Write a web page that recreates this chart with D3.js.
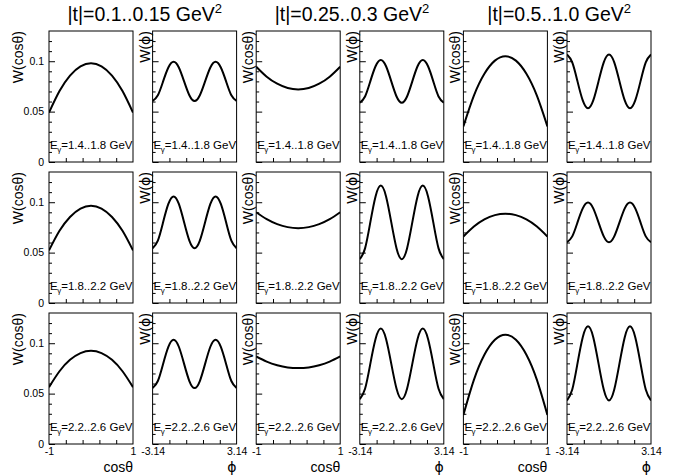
<!DOCTYPE html>
<html>
<head>
<meta charset="utf-8">
<script src="https://cdn.jsdelivr.net/npm/d3@7"></script>
<style>
  html, body { margin: 0; padding: 0; background: #fff; }
  svg { display: block; font-family: "Liberation Sans", Arial, Helvetica, sans-serif; }
</style>
</head>
<body>
<svg id="chart" width="692" height="475"></svg>
<script>
// ---------------- data ----------------
const tBins = ["0.1..0.15", "0.25..0.3", "0.5..1.0"];
const energyBins = ["1.4..1.8", "1.8..2.2", "2.2..2.6"];
const yMajorTicks = [0, 0.05, 0.1];
const yMajorLabels = ["0", "0.05", "0.1"];
const yMinorTicks = [0.01, 0.02, 0.03, 0.04, 0.06, 0.07, 0.08, 0.09, 0.11, 0.12];
const cosTicks = [-0.6, -0.2, 0.2, 0.6];
const cosLabels = ["-1", "1"];
const phiTicks = [-1.884, -0.628, 0.628, 1.884];
const phiLabels = ["-3.14", "3.14"];

const cosTheta = [-1, -0.75, -0.5, -0.25, 0, 0.25, 0.5, 0.75, 1];
const phi = [-3.1416, -2.7489, -2.3562, -1.9635, -1.5708, -1.1781, -0.7854, -0.3927, 0,
             0.3927, 0.7854, 1.1781, 1.5708, 1.9635, 2.3562, 2.7489, 3.1416];

// W(cos theta), rows = photon energy bins, columns = |t| bins
const wCosT1E1 = [0.0490, 0.0704, 0.0858, 0.0949, 0.0980, 0.0949, 0.0858, 0.0704, 0.0490];
const wCosT2E1 = [0.0946, 0.0847, 0.0777, 0.0734, 0.0720, 0.0734, 0.0777, 0.0847, 0.0946];
const wCosT3E1 = [0.0354, 0.0659, 0.0876, 0.1006, 0.1050, 0.1006, 0.0876, 0.0659, 0.0354];
const wCosT1E2 = [0.0522, 0.0716, 0.0854, 0.0937, 0.0965, 0.0937, 0.0854, 0.0716, 0.0522];
const wCosT2E2 = [0.0901, 0.0832, 0.0783, 0.0753, 0.0743, 0.0753, 0.0783, 0.0832, 0.0901];
const wCosT3E2 = [0.0660, 0.0759, 0.0830, 0.0872, 0.0886, 0.0872, 0.0830, 0.0759, 0.0660];
const wCosT1E3 = [0.0564, 0.0722, 0.0835, 0.0902, 0.0925, 0.0902, 0.0835, 0.0722, 0.0564];
const wCosT2E3 = [0.0869, 0.0818, 0.0782, 0.0760, 0.0753, 0.0760, 0.0782, 0.0818, 0.0869];
const wCosT3E3 = [0.0289, 0.0637, 0.0886, 0.1035, 0.1085, 0.1035, 0.0886, 0.0637, 0.0289];

// W(phi)
const wPhiT1E1 = [0.0605,0.0662,0.0800,0.0938,0.0995,0.0938,0.0800,0.0662,0.0605,0.0662,0.0800,0.0938,0.0995,0.0938,0.0800,0.0662,0.0605];
const wPhiT2E1 = [0.0588,0.0650,0.0800,0.0950,0.1012,0.0950,0.0800,0.0650,0.0588,0.0650,0.0800,0.0950,0.1012,0.0950,0.0800,0.0650,0.0588];
const wPhiT3E1 = [0.1067,0.0989,0.0800,0.0611,0.0533,0.0611,0.0800,0.0989,0.1067,0.0989,0.0800,0.0611,0.0533,0.0611,0.0800,0.0989,0.1067];
const wPhiT1E2 = [0.0544,0.0619,0.0801,0.0983,0.1058,0.0983,0.0801,0.0619,0.0544,0.0619,0.0801,0.0983,0.1058,0.0983,0.0801,0.0619,0.0544];
const wPhiT2E2 = [0.0435,0.0542,0.0800,0.1058,0.1165,0.1058,0.0800,0.0542,0.0435,0.0542,0.0800,0.1058,0.1165,0.1058,0.0800,0.0542,0.0435];
const wPhiT3E2 = [0.0603,0.0661,0.0800,0.0939,0.0997,0.0939,0.0800,0.0661,0.0603,0.0661,0.0800,0.0939,0.0997,0.0939,0.0800,0.0661,0.0603];
const wPhiT1E3 = [0.0555,0.0625,0.0795,0.0965,0.1035,0.0965,0.0795,0.0625,0.0555,0.0625,0.0795,0.0965,0.1035,0.0965,0.0795,0.0625,0.0555];
const wPhiT2E3 = [0.0445,0.0548,0.0795,0.1042,0.1145,0.1042,0.0795,0.0548,0.0445,0.0548,0.0795,0.1042,0.1145,0.1042,0.0795,0.0548,0.0445];
const wPhiT3E3 = [0.0432,0.0540,0.0800,0.1060,0.1168,0.1060,0.0800,0.0540,0.0432,0.0540,0.0800,0.1060,0.1168,0.1060,0.0800,0.0540,0.0432];

const cosSeries = [[wCosT1E1, wCosT2E1, wCosT3E1], [wCosT1E2, wCosT2E2, wCosT3E2], [wCosT1E3, wCosT2E3, wCosT3E3]];
const phiSeries = [[wPhiT1E1, wPhiT2E1, wPhiT3E1], [wPhiT1E2, wPhiT2E2, wPhiT3E2], [wPhiT1E3, wPhiT2E3, wPhiT3E3]];

// ---------------- layout ----------------
const svg = d3.select("#chart");
svg.append("rect").attr("width", 692).attr("height", 475).attr("fill", "#fff");

const panelLeft = d3.scaleLinear().domain([0, 5]).range([49, 567]);
const rowTop = d3.scaleLinear().domain([0, 2]).range([31, 313]);
const panelW = 84, panelH = 131;
const font = "'Liberation Sans', Arial, Helvetica, sans-serif";
const phiFont = "'DejaVu Sans', 'Liberation Sans', sans-serif";

// column headers
tBins.forEach((t, i) => {
  const cx = (panelLeft(2 * i) + panelLeft(2 * i + 1) + panelW) / 2 + 2;
  const tx = svg.append("text").attr("x", cx).attr("y", 21)
    .attr("text-anchor", "middle").attr("font-size", 19.5).attr("font-family", font).attr("fill", "#000");
  tx.append("tspan").text("|t|=" + t + " GeV");
  tx.append("tspan").attr("font-size", 13).attr("dy", -8).text("2");
});

for (let r = 0; r < 3; r++) {
  for (let c = 0; c < 6; c++) {
    const isCos = c % 2 === 0;
    const ti = Math.floor(c / 2);
    const x0 = panelLeft(c), y0 = rowTop(r);
    const g = svg.append("g").attr("transform", `translate(${x0},${y0})`);

    const x = d3.scaleLinear().domain(isCos ? [-1, 1] : [-3.1416, 3.1416]).range([0, panelW]);
    const y = d3.scaleLinear().domain([0, 0.13]).range([panelH, 0]);

    const clipId = `clip-${r}-${c}`;
    g.append("clipPath").attr("id", clipId).append("rect")
      .attr("width", panelW).attr("height", panelH);

    // y ticks (inside)
    const yMaj = d3.axisLeft(y).tickValues(yMajorTicks).tickSize(-6)
      .tickFormat((d, i) => (c === 0 ? yMajorLabels[i] : "")).tickPadding(5);
    const ga = g.append("g").call(yMaj);
    ga.select(".domain").remove();
    ga.selectAll("text").attr("font-size", 10.5).attr("font-family", font).attr("fill", "#000");
    ga.selectAll("line").attr("stroke", "#000");
    const yMin = d3.axisLeft(y).tickValues(yMinorTicks).tickSize(-3).tickFormat("");
    const gm = g.append("g").call(yMin);
    gm.select(".domain").remove();
    gm.selectAll("line").attr("stroke", "#000");

    // x ticks (inside)
    const xAx = d3.axisBottom(x).tickValues(isCos ? cosTicks : phiTicks).tickSize(-4).tickFormat("");
    const gx = g.append("g").attr("transform", `translate(0,${panelH})`).call(xAx);
    gx.select(".domain").remove();
    gx.selectAll("line").attr("stroke", "#000");

    if (r === 2) {
      const ends = x.domain();
      const labs = isCos ? cosLabels : phiLabels;
      const gl = g.append("g").attr("transform", `translate(0,${panelH})`)
        .call(d3.axisBottom(x).tickValues(ends).tickSize(0).tickPadding(4).tickFormat((d, i) => labs[i]));
      gl.select(".domain").remove();
      gl.selectAll("text").attr("font-size", 10.5).attr("font-family", font).attr("fill", "#000");
      g.append("text").attr("x", panelW).attr("y", panelH + 28)
        .attr("text-anchor", "end").attr("font-size", 14)
        .attr("font-family", isCos ? font : phiFont)
        .text(isCos ? "cosθ" : "ϕ");
    }

    // curve
    const xs = isCos ? cosTheta : phi;
    const ys = isCos ? cosSeries[r][ti] : phiSeries[r][ti];
    const line = d3.line().x((d, i) => x(xs[i])).y(d => y(d)).curve(d3.curveNatural);
    g.append("path").attr("d", line(ys)).attr("fill", "none")
      .attr("stroke", "#000").attr("stroke-width", 2).attr("clip-path", `url(#${clipId})`);

    // frame
    g.append("rect").attr("width", panelW).attr("height", panelH)
      .attr("fill", "none").attr("stroke", "#000").attr("stroke-width", 1);

    // energy label
    const el = g.append("text").attr("x", 1).attr("y", panelH - 13)
      .attr("font-size", 11.5).attr("font-family", font).attr("fill", "#000");
    el.append("tspan").text("E");
    el.append("tspan").attr("font-size", 8).attr("dy", 3).attr("dx", -0.5).text("γ");
    el.append("tspan").attr("dy", -3).text("=" + energyBins[r] + " GeV");

    // y title
    const tx = c === 0 ? -26 : -3;
    const yt = g.append("text").attr("transform", `translate(${tx},0) rotate(-90)`)
      .attr("text-anchor", "end").attr("font-size", 14).attr("font-family", font);
    if (isCos) {
      yt.text("W(cosθ)");
    } else {
      yt.append("tspan").text("W(");
      yt.append("tspan").attr("font-family", phiFont).text("ϕ");
      yt.append("tspan").text(")");
    }
  }
}
</script>
</body>
</html>
